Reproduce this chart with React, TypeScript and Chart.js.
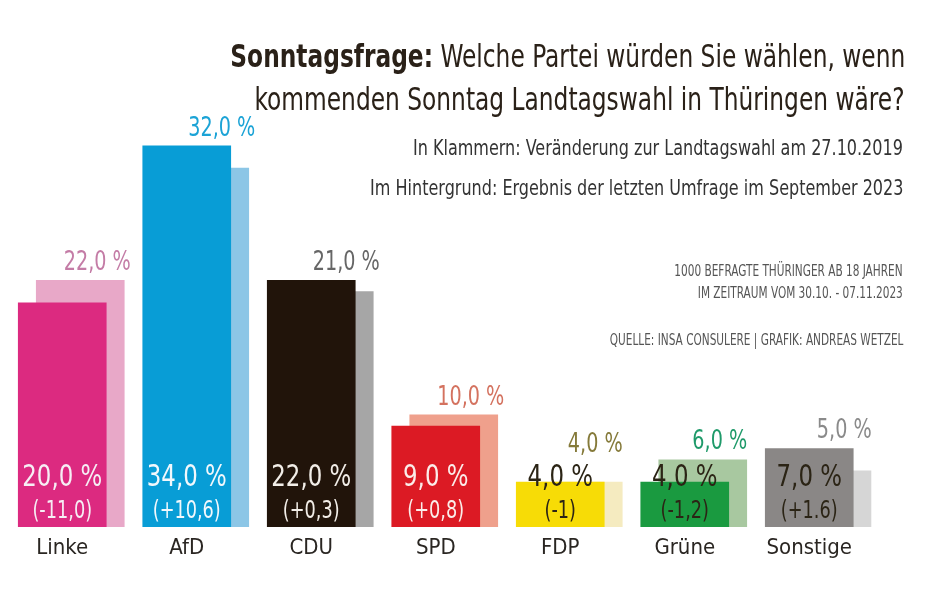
import React, { useEffect, useRef } from "react";
import { Chart, registerables } from "chart.js";

Chart.register(...registerables);

const categories = ["Linke", "AfD", "CDU", "SPD", "FDP", "Grüne", "Sonstige"];
const currentValues = [20, 34, 22, 9, 4, 4, 7];
const previousValues = [22, 32, 21, 10, 4, 6, 5];
const changeLabels = ["(-11,0)", "(+10,6)", "(+0,3)", "(+0,8)", "(-1)", "(-1,2)", "(+1.6)"];

const frontColors = ["#DC2A80", "#089DD6", "#21140A", "#DC1A24", "#F7DC06", "#1A9A40", "#8A8786"];
const backColors = ["#E8A8C8", "#8CC6E6", "#A6A6A6", "#EFA08C", "#F5EBC0", "#A8C8A0", "#D6D6D6"];
const prevLabelColors = ["#C47CA6", "#1BA3D6", "#666666", "#D4725F", "#857A3A", "#1F9A6A", "#8A8A8A"];
const innerLabelColors = ["#F6EEF4", "#F2F8FC", "#F2EEE8", "#FBEDEA", "#2B2415", "#2B2415", "#2B2415"];

const FONT = '"Liberation Sans Narrow", "DejaVu Sans Condensed", "Open Sans", sans-serif';
const SX = 0.82;

const fmt = (v: number) => v.toFixed(1).replace(".", ",") + " %";

const BG_SHIFT = 0.1446;

function drawNarrow(ctx: CanvasRenderingContext2D, text: string, x: number, y: number) {
  ctx.save();
  ctx.translate(x, y);
  ctx.scale(SX, 1);
  ctx.fillText(text, 0, 0);
  ctx.restore();
}

const labelPlugin = {
  id: "barLabels",
  afterDatasetsDraw(chart: any) {
    const ctx = chart.ctx;
    const y = chart.scales.y;
    const front = chart.getDatasetMeta(0);
    const back = chart.getDatasetMeta(1);
    const base = y.getPixelForValue(0);
    ctx.save();
    ctx.textAlign = "center";
    ctx.textBaseline = "middle";
    front.data.forEach((bar: any, i: number) => {
      const bg = back.data[i];
      ctx.fillStyle = innerLabelColors[i];
      ctx.font = `31px ${FONT}`;
      drawNarrow(ctx, fmt(currentValues[i]), bar.x, base - 49);
      ctx.font = `24px ${FONT}`;
      drawNarrow(ctx, changeLabels[i], bar.x, base - 15);
      const top = Math.min(bar.y, bg.y, base - 65);
      ctx.fillStyle = prevLabelColors[i];
      ctx.font = `26px ${FONT}`;
      drawNarrow(ctx, fmt(previousValues[i]), bg.x + 17, top - 17);
    });
    ctx.restore();
  },
};

export default function App() {
  const ref = useRef<HTMLCanvasElement | null>(null);
  useEffect(() => {
    document.body.style.margin = "0";
    if (!ref.current) return;
    const chart = new Chart(ref.current, {
      type: "bar",
      data: {
        labels: categories,
        datasets: [
          {
            label: "Aktuell",
            data: currentValues,
            backgroundColor: frontColors,
            barThickness: 88,
            maxBarThickness: 88,
            grouped: false,
            xAxisID: "x",
            yAxisID: "y",
          },
          {
            label: "September 2023",
            data: previousValues.map((v, i) => ({ x: i, y: v })),
            backgroundColor: backColors,
            barThickness: 88,
            maxBarThickness: 88,
            grouped: false,
            xAxisID: "x2",
            yAxisID: "y",
          },
        ],
      },
      options: {
        responsive: false,
        animation: false,
        layout: { padding: { left: 0, right: 62.5, top: 0, bottom: 0 } },
        plugins: { legend: { display: false }, tooltip: { enabled: false } },
        scales: {
          x: {
            type: "category",
            offset: true,
            grid: { display: false, drawTicks: false },
            border: { display: false },
            afterFit: (s: any) => {
              s.height = 71;
            },
            ticks: {
              autoSkip: false,
              maxRotation: 0,
              padding: 8,
              color: "#2A2622",
              font: { family: FONT, size: 22 },
            },
          },
          x2: {
            type: "linear",
            bounds: "data",
            offset: false,
            display: false,
            min: -0.5 - BG_SHIFT,
            max: 6.5 - BG_SHIFT,
            ticks: { stepSize: 1 },
          },
          y: { display: false, min: 0, max: 47 },
        },
      },
      plugins: [labelPlugin],
    } as any);
    return () => chart.destroy();
  }, []);

  const base: React.CSSProperties = {
    position: "absolute",
    right: 29,
    fontFamily: FONT,
    whiteSpace: "nowrap",
    lineHeight: 1,
    textAlign: "right",
    transform: "scaleX(0.81)",
    transformOrigin: "right center",
  };
  const small: React.CSSProperties = { ...base, right: 31, fontSize: 15, color: "#555", transform: "scaleX(0.78)" };
  return (
    <div style={{ position: "relative", width: 934, height: 598, background: "#fff", overflow: "hidden" }}>
      <canvas ref={ref} width={934} height={598} style={{ width: 934, height: 598, display: "block" }} />
      <div style={{ ...base, top: 40, fontSize: 32, color: "#2A2118" }}>
        <b>Sonntagsfrage:</b> Welche Partei würden Sie wählen, wenn
      </div>
      <div style={{ ...base, top: 83, fontSize: 32, color: "#2A2118" }}>
        kommenden Sonntag Landtagswahl in Thüringen wäre?
      </div>
      <div style={{ ...base, right: 31, top: 137, fontSize: 22, color: "#333" }}>
        In Klammern: Veränderung zur Landtagswahl am 27.10.2019
      </div>
      <div style={{ ...base, right: 31, top: 177, fontSize: 22, color: "#333" }}>
        Im Hintergrund: Ergebnis der letzten Umfrage im September 2023
      </div>
      <div style={{ ...small, top: 264 }}>1000 BEFRAGTE THÜRINGER AB 18 JAHREN</div>
      <div style={{ ...small, top: 286 }}>IM ZEITRAUM VOM 30.10. - 07.11.2023</div>
      <div style={{ ...small, top: 333 }}>QUELLE: INSA CONSULERE | GRAFIK: ANDREAS WETZEL</div>
    </div>
  );
}
